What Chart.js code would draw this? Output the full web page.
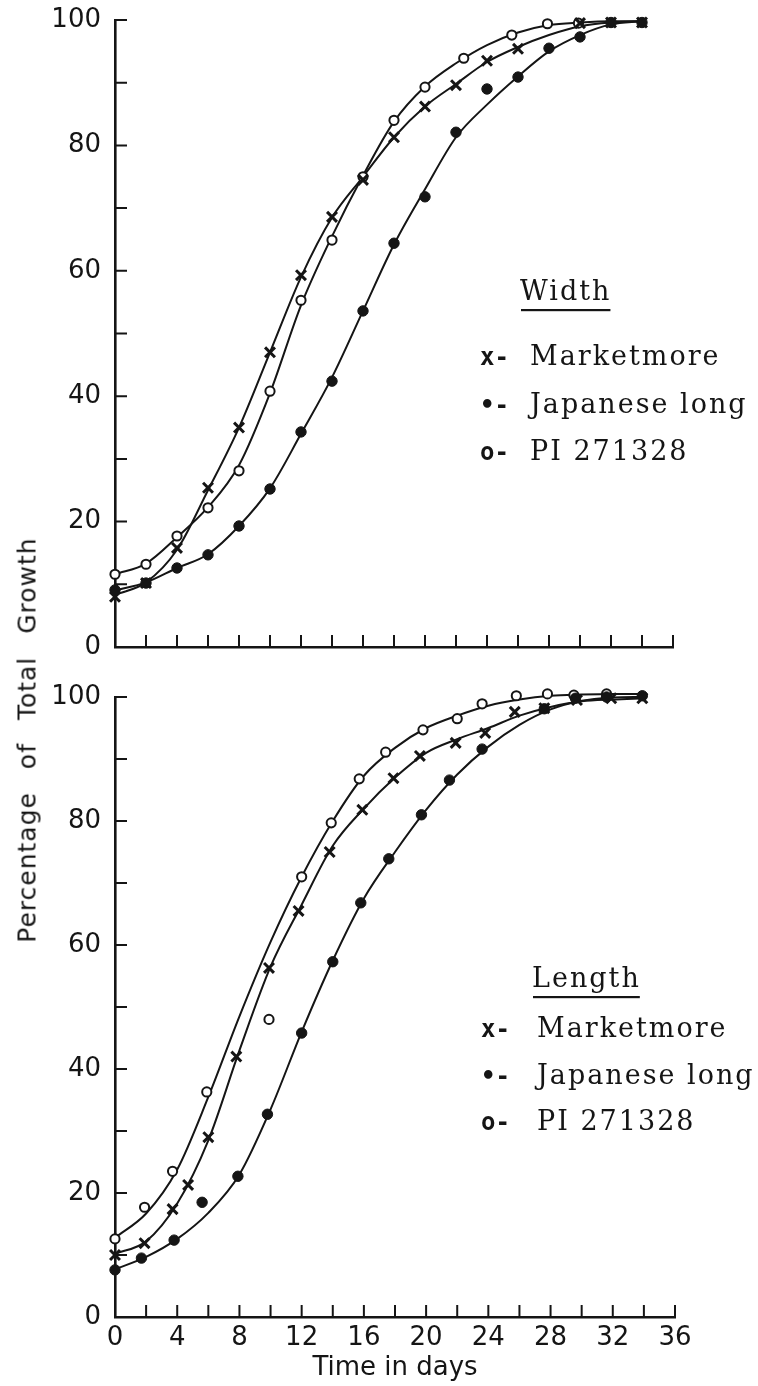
<!DOCTYPE html>
<html>
<head>
<meta charset="utf-8">
<script src="https://cdn.jsdelivr.net/npm/chart.js@4.4.1/dist/chart.umd.min.js"></script>
<style>
  body { margin:0; background:#fff; }
  #wrap { position:relative; width:758px; height:1386px; }
  #wrap canvas { position:absolute; left:0; }
  #ytitle {
    position:absolute; left:27px; top:740px;
    transform:translate(-50%, -50%) rotate(-90deg);
    white-space:nowrap; font:25px "DejaVu Sans", sans-serif;
    letter-spacing:1px; word-spacing:14px; color:#151515;
  }
</style>
</head>
<body>
<div id="wrap">
  <canvas id="width-chart" width="758" height="665" style="top:0;"></canvas>
  <canvas id="length-chart" width="758" height="721" style="top:665px;"></canvas>
  <div id="ytitle">Percentage of Total Growth</div>
</div>
<script>
// ── Data ─────────────────────────────────────────────────
const seriesNames = ['Marketmore', 'Japanese long', 'PI 271328'];
const seriesSymbols = ['x-', '\u2022-', 'o-'];
const yTicks = [0, 20, 40, 60, 80, 100];
const xTicks = [0, 4, 8, 12, 16, 20, 24, 28, 32, 36];

// Width panel — observed points
const wMMDays = [0, 2, 4, 6, 8, 10, 12, 14, 16, 18, 20, 22, 24, 26, 30, 32, 34];
const wMMPct  = [8, 10.2, 15.8, 25.4, 35, 47, 59.3, 68.6, 74.5, 81.3, 86.2, 89.6, 93.5, 95.4, 99.5, 99.6, 99.6];
const wJLDays = [0, 2, 4, 6, 8, 10, 12, 14, 16, 18, 20, 22, 24, 26, 28, 30, 32, 34];
const wJLPct  = [9.1, 10.2, 12.6, 14.7, 19.3, 25.2, 34.3, 42.4, 53.6, 64.4, 71.8, 82.1, 89, 90.9, 95.5, 97.3, 99.6, 99.6];
const wPIDays = [0, 2, 4, 6, 8, 10, 12, 14, 16, 18, 20, 22.5, 25.6, 27.9, 29.9];
const wPIPct  = [11.6, 13.2, 17.7, 22.2, 28.1, 40.8, 55.3, 64.9, 75, 84, 89.3, 93.9, 97.6, 99.4, 99.5];

// Length panel — observed points
const lMMDays = [0, 1.9, 3.7, 4.7, 6, 7.8, 9.9, 11.8, 13.8, 15.9, 17.9, 19.6, 21.9, 23.8, 25.7, 27.6, 29.7, 31.9, 33.9];
const lMMPct  = [10, 11.9, 17.4, 21.3, 29, 42, 56.3, 65.5, 75, 81.8, 86.9, 90.5, 92.6, 94.2, 97.6, 98.2, 99.5, 99.8, 99.8];
const lJLDays = [0, 1.7, 3.8, 5.6, 7.9, 9.8, 12, 14, 15.8, 17.6, 19.7, 21.5, 23.6, 27.6, 29.6, 31.6, 33.9];
const lJLPct  = [7.6, 9.5, 12.4, 18.5, 22.7, 32.7, 45.8, 57.3, 66.8, 73.9, 81, 86.6, 91.6, 98.1, 99.8, 100, 100.2];
const lPIDays = [0, 1.9, 3.7, 5.9, 9.9, 12, 13.9, 15.7, 17.4, 19.8, 22, 23.6, 25.8, 27.8, 29.5, 31.6];
const lPIPct  = [12.6, 17.7, 23.5, 36.3, 48, 71, 79.7, 86.8, 91.1, 94.7, 96.5, 98.9, 100.2, 100.5, 100.3, 100.5];

// fitted curves, read every 2 days
const curveDays = [0, 2, 4, 6, 8, 10, 12, 14, 16, 18, 20, 22, 24, 26, 28, 30, 32, 34];
const wMMCurve = [8.3, 10.3, 15.5, 25, 35, 47, 59, 68.5, 75, 81.3, 86.2, 89.8, 93.3, 95.7, 97.6, 99, 99.6, 99.8];
const wJLCurve = [9, 10.3, 12.6, 14.8, 19.3, 25.3, 34, 43, 53.6, 64.2, 73, 81.3, 86.5, 91, 95, 97.6, 99.3, 99.8];
const wPICurve = [11.6, 13.3, 17.5, 22.3, 29, 40.5, 54.5, 65.5, 75.2, 83.8, 89.4, 93.1, 96, 98, 99.2, 99.6, 99.8, 99.8];
const lMMCurve = [10.2, 12.2, 18.3, 28.5, 43, 56.5, 66.5, 76, 82, 87, 91, 93.2, 95, 97, 98.4, 99.3, 99.6, 99.8];
const lJLCurve = [7.7, 9.7, 12.6, 16.8, 23, 33.5, 46, 57.5, 67.5, 75, 81.8, 87.5, 92, 95.5, 98, 99.4, 99.9, 100];
const lPICurve = [12.8, 16.7, 23.8, 35.5, 48.5, 60.5, 71, 80, 87.3, 91.8, 95, 97, 98.6, 99.6, 100.2, 100.4, 100.5, 100.5];

// ── Helpers ──────────────────────────────────────────────
const INK = '#151515';
const pts = (xs, ys) => xs.map((x, i) => ({ x, y: ys[i] }));

const markerStyles = [
  { pointStyle: 'crossRot', pointRadius: 7, borderWidth: 3, backgroundColor: INK },
  { pointStyle: 'circle', pointRadius: 5.2, borderWidth: 1, backgroundColor: INK },
  { pointStyle: 'circle', pointRadius: 4.6, borderWidth: 2, backgroundColor: '#fff' },
];

function buildDatasets(pointSets, curves) {
  const sets = [];
  curves.forEach((c, i) => {
    sets.push({
      type: 'line', label: seriesNames[i] + ' fit', data: pts(curveDays, c),
      borderColor: INK, borderWidth: 2, pointRadius: 0,
      cubicInterpolationMode: 'monotone', fill: false, clip: false, order: 2,
    });
  });
  pointSets.forEach((p, i) => {
    sets.push({
      type: 'scatter', label: seriesNames[i], data: pts(p[0], p[1]),
      borderColor: INK, showLine: false, clip: false, order: 1, ...markerStyles[i],
    });
  });
  return sets;
}

// ticks on the inside of both axes, every 10 % and every 2 days
const inwardTicks = {
  id: 'inwardTicks',
  afterDraw(chart) {
    const { ctx, scales: { x, y } } = chart;
    ctx.save();
    ctx.strokeStyle = INK;
    ctx.lineWidth = 2;
    ctx.beginPath();
    for (let v = 10; v <= 100; v += 10) {
      const py = y.getPixelForValue(v);
      ctx.moveTo(x.left, py); ctx.lineTo(x.left + 12, py);
    }
    for (let d = 2; d <= 36; d += 2) {
      const px = x.getPixelForValue(d);
      ctx.moveTo(px, y.bottom); ctx.lineTo(px, y.bottom - 12);
    }
    ctx.stroke();
    ctx.restore();
  }
};

// hand-set key inside the plot, as in the original
const seriesKey = {
  id: 'seriesKey',
  afterDraw(chart, args, o) {
    const ctx = chart.ctx;
    ctx.save();
    ctx.fillStyle = INK;
    ctx.textBaseline = 'alphabetic';
    ctx.font = '27px "DejaVu Serif", serif';
    ctx.letterSpacing = '2px';
    ctx.fillText(o.title, o.titleX, o.titleY);
    const w = ctx.measureText(o.title).width;
    ctx.fillRect(o.titleX + 1, o.titleY + 9, w - 2, 2.2);
    seriesNames.forEach((name, i) => {
      const y = o.rowY + i * o.rowGap;
      ctx.font = 'bold 24px "DejaVu Sans Mono", monospace';
      ctx.letterSpacing = '0px';
      ctx.fillText(seriesSymbols[i], o.symX, y);
      ctx.font = '27px "DejaVu Serif", serif';
      ctx.letterSpacing = '2px';
      ctx.fillText(name, o.textX, y);
    });
    ctx.restore();
  }
};

function axisOptions(showXLabels, xHeight) {
  return {
    x: {
      type: 'linear', min: 0, max: 36,
      grid: { display: false, drawTicks: false },
      border: { display: true, width: 2.6, color: INK },
      ticks: {
        display: showXLabels, stepSize: 4, color: INK, padding: 6,
        font: { size: 26 }, maxRotation: 0,
        callback: v => xTicks.includes(v) ? String(v) : '',
      },
      title: {
        display: showXLabels, text: 'Time in days', color: INK,
        font: { size: 26 }, padding: { top: 0, bottom: 2 },
      },
      afterFit: s => { s.height = xHeight; },
    },
    y: {
      type: 'linear', min: 0, max: 100,
      grid: { display: false, drawTicks: false },
      border: { display: true, width: 2.6, color: INK },
      ticks: {
        stepSize: 20, color: INK, padding: 14, font: { size: 26 },
        callback: v => yTicks.includes(v) ? String(v) : '',
      },
      afterFit: s => { s.width = 115; s.paddingTop = 0; s.paddingBottom = 0; },
    },
  };
}

Chart.defaults.font.family = '"DejaVu Sans", sans-serif';
Chart.defaults.color = INK;

// ── Width panel ──────────────────────────────────────────
new Chart(document.getElementById('width-chart'), {
  type: 'scatter',
  data: {
    datasets: buildDatasets(
      [[wMMDays, wMMPct], [wJLDays, wJLPct], [wPIDays, wPIPct]],
      [wMMCurve, wJLCurve, wPICurve]
    ),
  },
  options: {
    responsive: false, animation: false,
    layout: { padding: { top: 20, right: 85, left: 0, bottom: 0 } },
    scales: axisOptions(false, 18),
    plugins: {
      legend: { display: false }, tooltip: { enabled: false },
      seriesKey: { title: 'Width', titleX: 520, titleY: 300, symX: 480, textX: 530, rowY: 365, rowGap: 47.5 },
    },
  },
  plugins: [inwardTicks, seriesKey],
});

// ── Length panel ─────────────────────────────────────────
new Chart(document.getElementById('length-chart'), {
  type: 'scatter',
  data: {
    datasets: buildDatasets(
      [[lMMDays, lMMPct], [lJLDays, lJLPct], [lPIDays, lPIPct]],
      [lMMCurve, lJLCurve, lPICurve]
    ),
  },
  options: {
    responsive: false, animation: false,
    layout: { padding: { top: 32, right: 83, left: 0, bottom: 0 } },
    scales: axisOptions(true, 69),
    plugins: {
      legend: { display: false }, tooltip: { enabled: false },
      seriesKey: { title: 'Length', titleX: 532, titleY: 322, symX: 481, textX: 537, rowY: 372, rowGap: 46.5 },
    },
  },
  plugins: [inwardTicks, seriesKey],
});
</script>
</body>
</html>
